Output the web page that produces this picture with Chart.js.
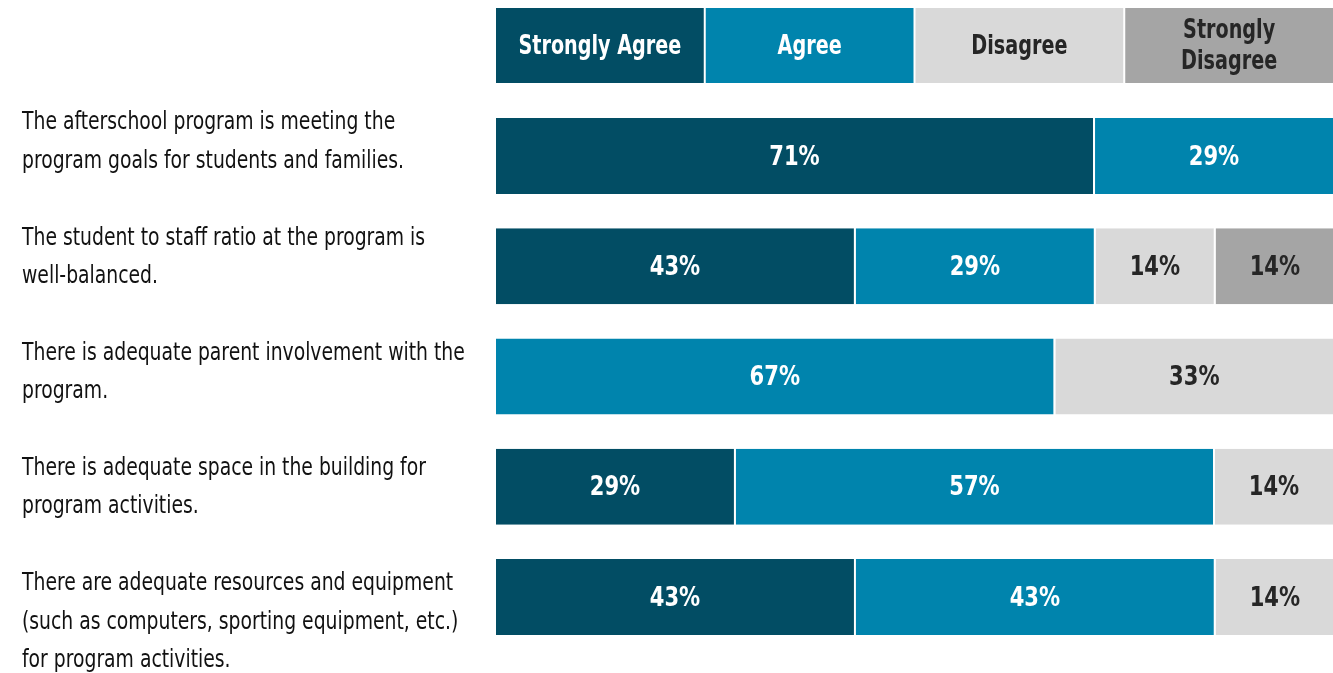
<!DOCTYPE html>
<html>
<head>
<meta charset="utf-8">
<script src="https://cdn.jsdelivr.net/npm/chart.js@4"></script>
<style>
  html, body { margin:0; padding:0; background:#fff; }
</style>
</head>
<body>
<canvas id="chart" width="1333" height="673"></canvas>
<script>
const questions = [
  ["The afterschool program is meeting the", "program goals for students and families."],
  ["The student to staff ratio at the program is", "well-balanced."],
  ["There is adequate parent involvement with the", "program."],
  ["There is adequate space in the building for", "program activities."],
  ["There are adequate resources and equipment", "(such as computers, sporting equipment, etc.)", "for program activities."]
];

const seriesNames = ["Strongly Agree", "Agree", "Disagree", "Strongly Disagree"];
const stronglyAgree    = [71.4, 42.9, 0,    28.6, 42.9];
const agree            = [28.6, 28.6, 66.7, 57.1, 42.9];
const disagree         = [0,    14.3, 33.3, 14.3, 14.3];
const stronglyDisagree = [0,    14.3, 0,    0,    0];

const colors     = ["#024d64", "#0084ad", "#d9d9d9", "#a5a5a5"];
const textColors = ["#ffffff", "#ffffff", "#262626", "#262626"];

const FONT = "'DejaVu Sans Condensed', 'DejaVu Sans', sans-serif";

// the original uses a condensed face, squeeze horizontally
function narrowText(ctx, txt, x, y, squeeze){
  ctx.save();
  ctx.translate(x, y);
  ctx.scale(squeeze, 1);
  ctx.fillText(txt, 0, 0);
  ctx.restore();
}

/* ---------------------
   header boxes (legend)
--------------------- */
const headerPlugin = {
  id: "header",
  afterDraw(chart){
    const ctx = chart.ctx;
    const x = chart.scales.x;
    const top = 8, h = 75;
    ctx.save();
    seriesNames.forEach((name, i)=>{
      const x0 = x.getPixelForValue(i*25) + 2;
      const x1 = x.getPixelForValue((i+1)*25);
      ctx.fillStyle = colors[i];
      ctx.fillRect(x0, top, x1 - x0, h);
      ctx.fillStyle = textColors[i];
      ctx.font = "bold 26px " + FONT;
      ctx.textAlign = "center";
      ctx.textBaseline = "middle";
      const cx = (x0 + x1)/2;
      if(name === "Strongly Disagree"){
        narrowText(ctx, "Strongly", cx, top + h/2 - 14, 0.82);
        narrowText(ctx, "Disagree", cx, top + h/2 + 17, 0.82);
      } else {
        narrowText(ctx, name, cx, top + h/2 + 2, 0.82);
      }
    });
    ctx.restore();
  }
};

/* ---------------------
   question labels on the left
--------------------- */
const questionPlugin = {
  id: "questions",
  afterDraw(chart){
    const ctx = chart.ctx;
    const y = chart.scales.y;
    ctx.save();
    ctx.font = "24px " + FONT;
    ctx.fillStyle = "#111";
    ctx.textAlign = "left";
    ctx.textBaseline = "middle";
    questions.forEach((lines, i)=>{
      const y0 = y.getPixelForValue(i) - 33 + i*5;
      lines.forEach((ln, j)=>{
        narrowText(ctx, ln, 22, y0 + j*38.5, 0.87);
      });
    });
    ctx.restore();
  }
};

/* ---------------------
   percent labels inside bars
--------------------- */
const valuePlugin = {
  id: "values",
  afterDatasetsDraw(chart){
    const ctx = chart.ctx;
    ctx.save();
    ctx.font = "bold 26px " + FONT;
    ctx.textAlign = "center";
    ctx.textBaseline = "middle";
    chart.data.datasets.forEach((ds, di)=>{
      chart.getDatasetMeta(di).data.forEach((bar, i)=>{
        const v = ds.data[i];
        if(!v) return;
        const p = bar.getProps(["x","base","y"], true);
        ctx.fillStyle = textColors[di];
        narrowText(ctx, Math.round(v) + "%", (p.x + p.base + 2)/2, p.y + 2, 0.9);
      });
    });
    ctx.restore();
  }
};

const seriesData = [stronglyAgree, agree, disagree, stronglyDisagree];

new Chart(document.getElementById("chart"), {
  type: "bar",
  data: {
    labels: questions.map(q => q.join(" ")),
    datasets: seriesNames.map((name, i)=>({
      label: name,
      data: seriesData[i],
      backgroundColor: colors[i],
      borderColor: "#ffffff",
      borderWidth: {left:2, top:0, bottom:0, right:0},
      borderSkipped: false,
      barPercentage: 0.69,
      categoryPercentage: 1
    }))
  },
  options: {
    indexAxis: "y",
    responsive: false,
    animation: false,
    devicePixelRatio: 1,
    layout: { padding: { left:494, right:0, top:101, bottom:21 } },
    scales: {
      x: { stacked:true, min:0, max:100, display:false },
      y: { stacked:true, display:false }
    },
    plugins: {
      legend: { display:false },
      tooltip: { enabled:false }
    }
  },
  plugins: [headerPlugin, questionPlugin, valuePlugin]
});
</script>
</body>
</html>
